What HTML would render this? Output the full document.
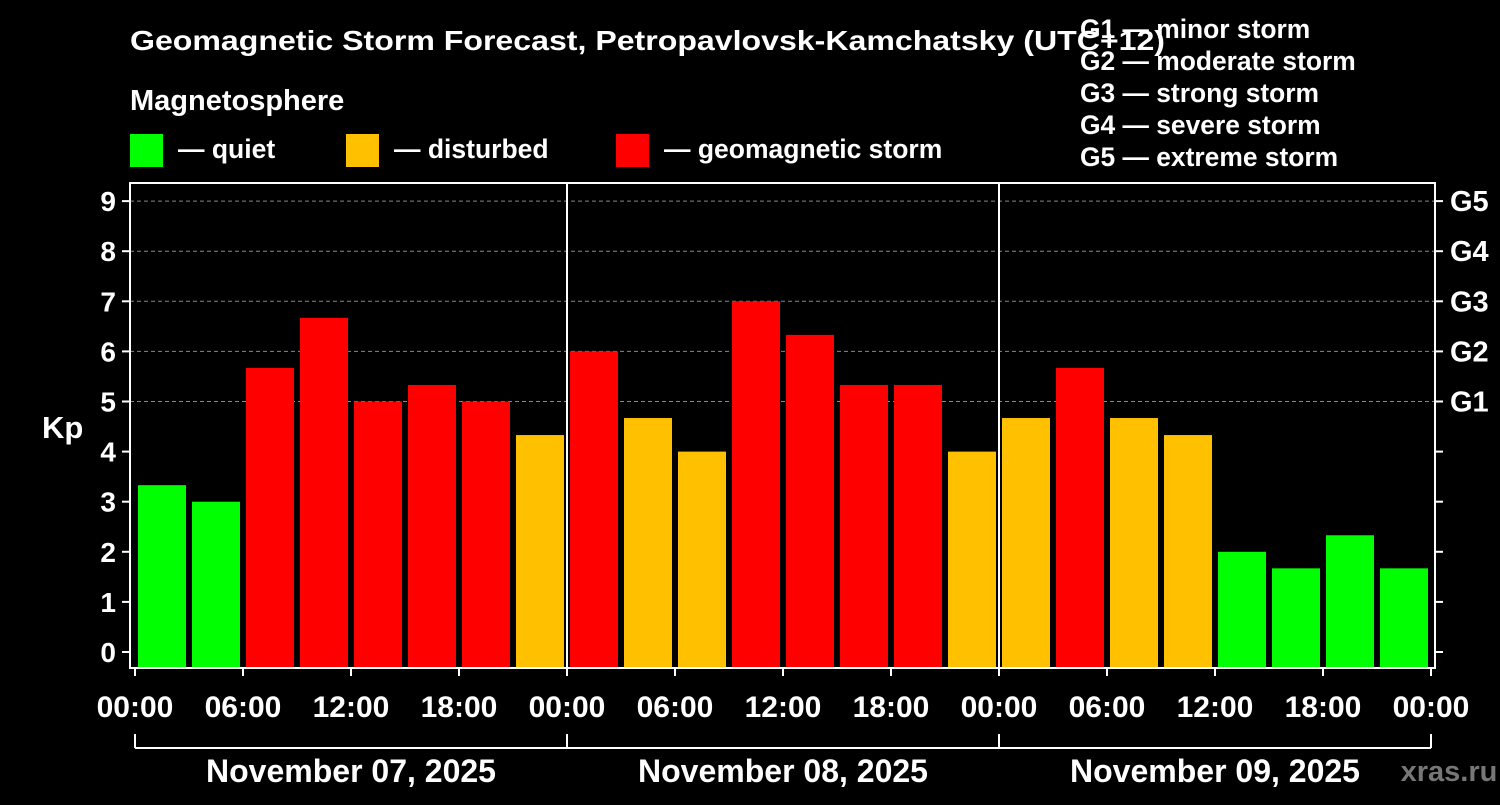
<!DOCTYPE html>
<html><head><meta charset="utf-8"><style>
body{margin:0;background:#000;width:1500px;height:800px;overflow:hidden}
svg text{font-family:"Liberation Sans",Arial,sans-serif;font-weight:bold;fill:#fff}
</style></head><body>
<svg id="c" width="1500" height="800" xmlns="http://www.w3.org/2000/svg">
<text x="130" y="50" font-size="28" textLength="1035" lengthAdjust="spacingAndGlyphs">Geomagnetic Storm Forecast, Petropavlovsk-Kamchatsky (UTC+12)</text>
<text x="130" y="110" font-size="29">Magnetosphere</text>
<g><rect x="130" y="134" width="33" height="33" fill="#00ff00"/><text x="178" y="158" font-size="26.5">— quiet</text></g>
<g><rect x="346" y="134" width="33" height="33" fill="#ffc000"/><text x="394" y="158" font-size="26.5">— disturbed</text></g>
<g><rect x="616" y="134" width="33" height="33" fill="#ff0000"/><text x="664" y="158" font-size="26.5">— geomagnetic storm</text></g>
<g font-size="26.4">
<text x="1080" y="38">G1 — minor storm</text>
<text x="1080" y="70">G2 — moderate storm</text>
<text x="1080" y="102">G3 — strong storm</text>
<text x="1080" y="134">G4 — severe storm</text>
<text x="1080" y="166">G5 — extreme storm</text>
</g>
<text x="42" y="438" font-size="31">Kp</text>
<g id="grid"></g><g id="bars"></g><g id="axes"></g>
<text x="1449" y="781" font-size="29" style="fill:#777" text-anchor="middle">xras.ru</text>
</svg>
<script>
const days=["November 07, 2025","November 08, 2025","November 09, 2025"];
const kpValues=[3.33,3.0,5.67,6.67,5.0,5.33,5.0,4.33, 6.0,4.67,4.0,7.0,6.33,5.33,5.33,4.0, 4.67,5.67,4.67,4.33,2.0,1.67,2.33,1.67];
const yTicks=[0,1,2,3,4,5,6,7,8,9];
const gLabels=["G1","G2","G3","G4","G5"];
const xTickLabels=["00:00","06:00","12:00","18:00"];
const NS="http://www.w3.org/2000/svg";
const X0=135,dayW=432,L=130,R=1435,T=183,B=668;
const y=v=>652-v*50.1;
const x=h=>X0+h*dayW/24;
function mk(p,t,a){const e=document.createElementNS(NS,t);for(const k in a)e.setAttribute(k,a[k]);p.appendChild(e);return e;}
const grid=document.getElementById('grid'),bars=document.getElementById('bars'),axes=document.getElementById('axes');
for(let v=5;v<=9;v++){const l=mk(grid,'line',{x1:L,x2:R,y1:y(v),y2:y(v),stroke:'#888','stroke-dasharray':'4,3','stroke-width':1});

}
kpValues.forEach((v,i)=>{const c=v>=5?'#ff0000':(v>=4?'#ffc000':'#00ff00');
const r=mk(bars,'rect',{x:x(i*3)+3,y:y(v),width:48,height:B-y(v),fill:c});

});
const f=mk(axes,'rect',{x:L,y:T,width:R-L,height:B-T,fill:'none',stroke:'#fff','stroke-width':2});


for(let d=1;d<days.length;d++){mk(axes,'line',{x1:x(24*d),x2:x(24*d),y1:T,y2:B,stroke:'#fff','stroke-width':2});}
yTicks.forEach(v=>{mk(axes,'line',{x1:L-8,x2:L,y1:y(v),y2:y(v),stroke:'#fff','stroke-width':2});
mk(axes,'line',{x1:R,x2:R+8,y1:y(v),y2:y(v),stroke:'#fff','stroke-width':2});
const t=mk(axes,'text',{x:116,y:y(v)+10,'font-size':28,'text-anchor':'end'});t.textContent=v;

});
gLabels.forEach((g,i)=>{const t=mk(axes,'text',{x:1450,y:y(5+i)+10,'font-size':29});t.textContent=g;

});
for(let h=0;h<=72;h+=6){mk(axes,'line',{x1:x(h),x2:x(h),y1:B,y2:B+8,stroke:'#fff','stroke-width':2});
const t=mk(axes,'text',{x:x(h),y:717,'font-size':30,'text-anchor':'middle'});t.textContent=xTickLabels[(h/6)%4];

}
mk(axes,'line',{x1:x(0),x2:x(72),y1:748,y2:748,stroke:'#fff','stroke-width':2});
for(let d=0;d<=days.length;d++)mk(axes,'line',{x1:x(24*d),x2:x(24*d),y1:734,y2:748,stroke:'#fff','stroke-width':2});
days.forEach((s,d)=>{const t=mk(axes,'text',{x:x(24*d+12),y:782,'font-size':32,'text-anchor':'middle'});t.textContent=s;

});
</script>
</body></html>
